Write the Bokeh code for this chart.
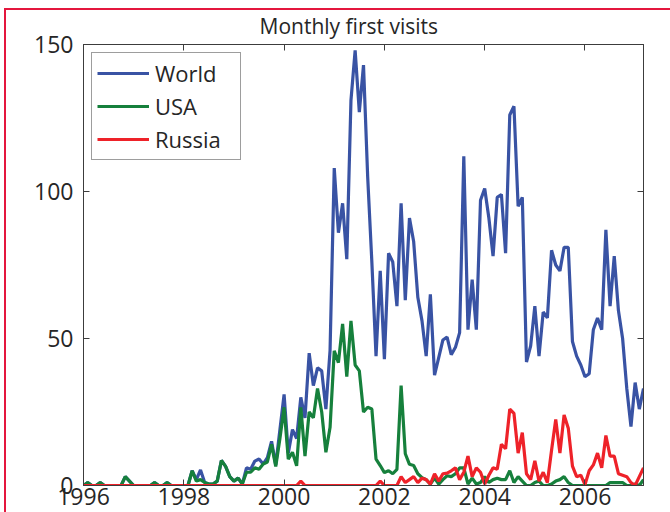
from bokeh.plotting import figure
from bokeh.models import Range1d, FixedTicker, LinearAxis, Legend, LegendItem
from bokeh.embed import file_html
from bokeh.resources import INLINE

# Monthly counts, January 1996 through March 2007
start_year = 1996
world = [0, 1, 0, 0, 1, 0, 0, 0, 0, 0, 3, 1.5, 0, 0, 0, 0, 0, 1, 0, 0, 1, 0, 0, 0, 0, 0,
         5, 2, 5.3, 1, 0.5, 0.5, 1.5, 8.5, 6.5, 3, 1.5, 2.5, 0.5, 6, 5.5, 8.3, 9, 7.3, 9.5, 15,
         7, 19, 31, 11, 19, 16, 30, 23, 45, 34, 40, 39, 26, 46, 108, 86, 96, 77, 131, 148,
         127, 143, 105, 76, 44, 73, 43, 79, 76, 61, 96, 63, 91, 83, 64, 56, 44, 65, 37.5, 43.5,
         49.5, 50.5, 44.5, 47, 52, 112, 53, 70, 53, 97, 101, 91, 78, 98, 99, 79, 126, 129, 95,
         98, 42, 47.5, 61, 44, 59, 57, 80, 75, 73, 81, 81, 49, 44, 41, 37, 38, 53, 57, 53, 87,
         61, 78, 59.5, 50, 33, 20, 35, 26, 33]
usa = [0, 1, 0, 0, 1, 0, 0, 0, 0, 0, 3, 1.5, 0, 0, 0, 0, 0, 1, 0, 0, 1, 0, 0, 0, 0, 0,
       5, 1.5, 2, 1, 0.5, 0.5, 1.5, 8.5, 6.5, 3, 1.5, 2.5, 0.5, 4.5, 4.5, 6, 5.5, 7.3, 8, 14,
       6.5, 16, 26.6, 9, 11.3, 6.7, 26.6, 10, 25, 23, 33, 25, 11.3, 19.8, 45.8, 41.8, 55, 37,
       56, 41, 39, 25, 26.6, 26, 9, 6.8, 4.4, 5, 4, 5.5, 34, 10.8, 7.2, 6.8, 4, 2.7, 2, 0.5,
       2.5, 0.5, 2, 3.3, 3, 4, 6, 6, 0.5, 2.5, 0.5, 1, 3, 1, 2, 2.5, 2, 2, 5, 1, 3, 1.5, 0,
       0, 1, 1.5, 0, 0, 0.5, 1.5, 2, 3, 1, 0, 0, 0, 0, 0, 0, 0, 0, 0, 1, 1, 1, 1, 0, 0, 0.5,
       0, 2]
russia = [0, 0, 0, 0, 0, 0, 0, 0, 0, 0, 0, 0, 0, 0, 0, 0, 0, 0, 0, 0, 0, 0, 0, 0, 0, 0,
          0, 0, 0, 0, 0, 0, 0, 0, 0, 0, 0, 0, 0, 0, 0, 0, 0, 0, 0, 0, 0, 0, 0, 0, 0, 0, 1.5,
          0, 0, 0, 0, 0, 0, 0, 0, 0, 0, 0, 0, 0, 0, 0, 0, 0, 0, 1.5, 0, 0, 0, 0, 3, 1, 2, 3,
          1, 2.5, 2, 0.5, 4, 1.5, 4, 4.2, 5, 6, 2, 4.5, 10, 3, 6, 4.5, 0.5, 3.5, 6, 5.5, 14,
          12.5, 26, 24.5, 11, 18, 4, 2, 8.4, 1.5, 4.5, 1, 12, 22.5, 11, 24, 19.5, 6.6, 3, 3.5,
          0.3, 5, 7, 11, 6, 17, 10, 10, 4, 3.5, 3, 1, 0, 3, 6]
months = [start_year + i / 12 for i in range(len(world))]

series_names = ["World", "USA", "Russia"]
series_colors = ["#3953a4", "#16803c", "#ee2229"]
x_ticks = [1996, 1998, 2000, 2002, 2004, 2006]
y_ticks = [0, 50, 100, 150]

FONT = "Open Sans"
TEXT = "#262626"
FRAME = "#3c3c3c"
EDGE = "#e4173e"

p = figure(width=670, height=512, output_backend="svg", toolbar_location=None,
           x_range=Range1d(start_year, months[-1]), y_range=Range1d(0, 150),
           min_border_left=83, min_border_top=44, min_border_right=27, min_border_bottom=27)
# page edge lines (top and left) painted behind a transparent border area
p.styles = {"background": (f"linear-gradient({EDGE},{EDGE}) 4px 8px / 2px 504px no-repeat, "
                           f"linear-gradient({EDGE},{EDGE}) 4px 8px / 666px 2px no-repeat, white")}
p.border_fill_alpha = 0
p.background_fill_color = "white"

p.title.text = "Monthly first visits"
p.title.text_font = FONT
p.title.text_font_size = "21px"
p.title.text_font_style = "normal"
p.title.text_color = TEXT
p.title.align = "left"
p.title.offset = 176
p.title.standoff = 10

p.grid.visible = False
p.outline_line_color = FRAME
p.outline_line_width = 1

renderers = []
for ys, c in zip([world, usa, russia], series_colors):
    renderers.append(p.line(months, ys, line_color=c, line_width=3.2))

for ax in (p.xaxis[0], p.yaxis[0]):
    ax.axis_line_color = FRAME
    ax.major_tick_line_color = FRAME
    ax.major_tick_in = 6
    ax.major_tick_out = 0
    ax.minor_tick_line_color = None
    ax.major_label_text_font = FONT
    ax.major_label_text_color = TEXT
p.xaxis.ticker = FixedTicker(ticks=x_ticks)
p.yaxis.ticker = FixedTicker(ticks=y_ticks)
p.xaxis.major_label_text_font_size = "23px"
p.xaxis.major_label_standoff = 2
p.yaxis.major_label_text_font_size = "23px"
p.yaxis.major_label_standoff = 10

# tick marks along the top and right edges of the box, without labels
top = LinearAxis(ticker=FixedTicker(ticks=x_ticks))
right = LinearAxis(ticker=FixedTicker(ticks=y_ticks))
for ax in (top, right):
    ax.axis_line_color = FRAME
    ax.major_tick_line_color = FRAME
    ax.major_tick_in = 6
    ax.major_tick_out = 0
    ax.minor_tick_line_color = None
    ax.major_label_text_font_size = "1px"
    ax.major_label_text_color = None
    ax.major_label_text_alpha = 0
    ax.major_label_standoff = 0
p.add_layout(top, "above")
p.add_layout(right, "right")

legend = Legend(items=[LegendItem(label=n, renderers=[r]) for n, r in zip(series_names, renderers)],
                location="top_left")
legend.margin = 8
legend.padding = 5
legend.spacing = 3
legend.glyph_width = 52
legend.glyph_height = 28
legend.label_height = 28
legend.label_width = 80
legend.label_standoff = 6
legend.label_text_font = FONT
legend.label_text_font_size = "22px"
legend.label_text_color = TEXT
legend.border_line_color = FRAME
legend.border_line_width = 1
legend.background_fill_color = "white"
legend.background_fill_alpha = 1
p.add_layout(legend, "center")

open("out.html", "w").write(file_html(p, INLINE))
